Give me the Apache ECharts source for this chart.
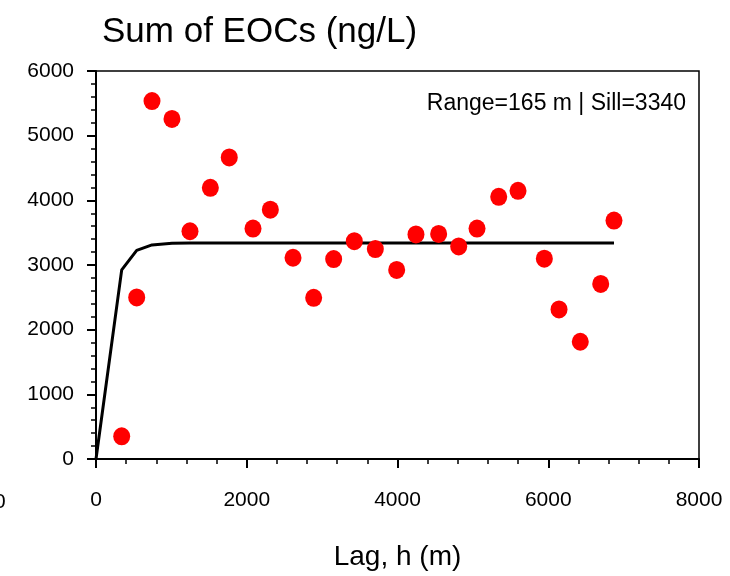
<!DOCTYPE html>
<html><head><meta charset="utf-8">
<script src="https://cdn.jsdelivr.net/npm/echarts@6/dist/echarts.min.js"></script>
<style>html,body{margin:0;padding:0;background:#fff}#c{width:730px;height:576px}</style>
</head><body><div id="c"></div>
<script>
const lagValues = [341, 540, 743, 1008, 1247, 1517, 1768, 2083, 2313, 2614, 2888, 3153, 3427, 3706, 3989, 4245, 4546, 4812, 5055, 5343, 5599, 5948, 6143, 6425, 6696, 6872];
const eocValues = [350, 2498, 5535, 5258, 3522, 4193, 4664, 3564, 3856, 3112, 2493, 3092, 3369, 3246, 2923, 3472, 3481, 3287, 3564, 4055, 4147, 3097, 2313, 1813, 2708, 3687];
const modelLag = [0, 341, 540, 743, 1008, 1247, 6872];
const modelValues = [0, 2925, 3225, 3310, 3335, 3340, 3340];
const titleText = 'Sum of EOCs (ng/L)';
const xAxisName = 'Lag, h (m)';
const noteText = 'Range=165 m | Sill=3340';

const font = 'Liberation Sans, Arial, sans-serif';
const chart = echarts.init(document.getElementById('c'));
chart.setOption({
  animation: false,
  backgroundColor: '#fff',
  title: { text: titleText, left: 97, top: 10, textStyle: { fontFamily: font, fontSize: 35, fontWeight: 'normal', color: '#000' } },
  grid: { left: 96, right: 31, top: 71, bottom: 114, show: true, borderColor: '#000', borderWidth: 1.5, backgroundColor: 'transparent' },
  xAxis: {
    type: 'value', min: 0, max: 8000, interval: 2000,
    name: xAxisName, nameLocation: 'middle', nameGap: 84,
    nameTextStyle: { fontFamily: font, fontSize: 28, color: '#000' },
    axisLine: { show: true, lineStyle: { color: '#000', width: 2 } },
    axisTick: { show: true, inside: false, length: 9, lineStyle: { color: '#000', width: 2 } },
    minorTick: { show: true, splitNumber: 5, length: 5, lineStyle: { color: '#000', width: 1.5 } },
    axisLabel: { fontFamily: font, fontSize: 21, color: '#000', margin: 31, formatter: v => String(v) },
    splitLine: { show: false }
  },
  yAxis: {
    type: 'value', min: 0, max: 6000, interval: 1000,
    axisLine: { show: true, lineStyle: { color: '#000', width: 2 } },
    axisTick: { show: true, inside: false, length: 9, lineStyle: { color: '#000', width: 2 } },
    minorTick: { show: true, splitNumber: 5, length: 5, lineStyle: { color: '#000', width: 1.5 } },
    axisLabel: { fontFamily: font, fontSize: 21, color: '#000', margin: 22, formatter: v => String(v) },
    splitLine: { show: false }
  },
  graphic: [
    { type: 'text', right: 44, top: 92, style: { text: noteText, font: '23px ' + font, fill: '#000' } },
    { type: 'text', left: -6, top: 492, style: { text: '0', font: '21px ' + font, fill: '#000' } }
  ],
  series: [
    {
      type: 'line', data: modelLag.map((x, i) => [x, modelValues[i]]),
      showSymbol: false, symbol: 'none', lineStyle: { color: '#000', width: 3 }, z: 2
    },
    {
      type: 'scatter', data: lagValues.map((x, i) => [x, eocValues[i]]),
      symbol: 'circle', symbolSize: [17, 18], itemStyle: { color: '#ff0000', opacity: 1 }, z: 3
    }
  ]
});
</script></body></html>
